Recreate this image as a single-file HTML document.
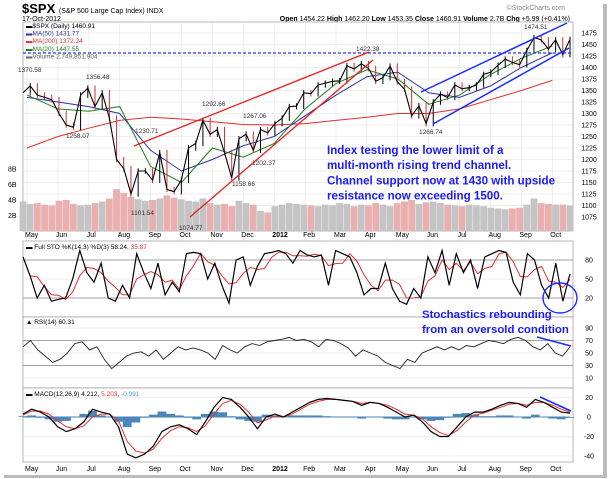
<!DOCTYPE html>
<html><head><meta charset="utf-8"><style>
body{margin:0;background:#fff;font-family:"Liberation Sans",sans-serif}
svg{display:block}
text{font-family:"Liberation Sans",sans-serif}
</style></head><body>
<svg id="c" width="609" height="479" viewBox="0 0 609 479">
<rect x="0" y="0" width="609" height="479" fill="#fff"/>
<rect x="603" y="4" width="4" height="474" fill="#bbb"/>
<rect x="4" y="475" width="603" height="3" fill="#bbb"/>
<text x="22" y="13" font-size="13" font-weight="bold">$SPX <tspan font-size="7" font-weight="normal">(S&amp;P 500 Large Cap Index) INDX</tspan></text>
<text x="22" y="21" font-size="7">17-Oct-2012</text>
<text x="565" y="10" font-size="7" fill="#888" text-anchor="end">©StockCharts.com</text>
<text x="570" y="21" font-size="7" text-anchor="end"><tspan font-weight="bold">Open</tspan> 1454.22 <tspan font-weight="bold">High</tspan> 1462.20 <tspan font-weight="bold">Low</tspan> 1453.35 <tspan font-weight="bold">Close</tspan> 1460.91 <tspan font-weight="bold">Volume</tspan> 2.7B <tspan font-weight="bold">Chg</tspan> +5.99 (+0.41%)</text>
<g id="g"></g>
</svg>
<script>
const months=["May","Jun","Jul","Aug","Sep","Oct","Nov","Dec","2012","Feb","Mar","Apr","May","Jun","Jul","Aug","Sep","Oct"];
const closes=[1345,1360,1340,1335,1330,1300,1275,1270,1340,1355,1315,1345,1290,1200,1180,1125,1175,1175,1155,1215,1135,1130,1155,1225,1235,1285,1255,1265,1215,1160,1245,1255,1220,1265,1258,1278,1290,1315,1316,1345,1343,1362,1366,1370,1371,1404,1397,1408,1398,1370,1378,1403,1369,1353,1295,1317,1278,1325,1342,1335,1362,1354,1356,1362,1385,1390,1405,1418,1411,1406,1437,1465,1460,1440,1460,1428,1461];
const volumes=[3.8,3.5,3.6,3.4,3.3,3.9,4.0,3.5,3.3,3.4,3.6,3.8,4.2,5.4,4.9,4.4,4.1,3.9,4.0,4.2,4.6,4.3,4.1,3.9,3.8,4.2,3.6,3.4,3.5,3.2,3.9,3.6,3.4,2.6,2.4,3.2,3.4,3.6,3.5,3.4,3.3,3.2,3.4,3.3,3.6,3.5,3.2,3.4,3.3,3.6,3.4,3.2,3.6,3.8,4.0,3.5,3.7,3.8,3.6,3.4,3.3,3.2,3.4,3.3,3.2,3.0,2.9,2.8,2.9,3.0,3.4,4.2,3.6,3.5,3.4,3.4,3.3];
const ma200=[1225,1250,1268,1285,1292,1288,1282,1276,1275,1278,1285,1292,1300,1300,1310,1330,1350,1372];
const ma50=[1335,1325,1315,1300,1220,1175,1200,1230,1250,1295,1340,1380,1390,1345,1335,1360,1400,1432];
const ma20=[1340,1310,1305,1315,1185,1150,1225,1205,1235,1310,1365,1395,1375,1320,1340,1385,1420,1447];
const sto=[85,55,20,40,15,18,20,50,95,60,45,75,20,15,40,20,90,60,35,75,25,45,30,90,92,90,50,75,40,12,80,85,40,70,90,92,95,90,75,95,88,85,88,40,95,90,85,60,25,35,35,75,35,15,10,35,20,85,60,95,40,90,60,80,35,85,90,95,92,45,25,90,80,40,20,75,15,58];
const rsi=[60,70,55,45,35,40,50,65,68,55,60,40,25,35,45,50,52,45,55,40,50,60,55,58,55,50,40,62,55,50,60,65,62,68,70,72,75,70,72,68,60,72,70,65,58,45,55,50,45,35,30,25,40,35,50,55,60,55,60,55,62,60,65,70,68,65,72,75,70,60,55,65,50,45,60];
const macd=[3,8,5,0,-10,-15,-12,-5,8,5,3,-10,-38,-42,-38,-30,-15,-10,-8,-12,-18,-5,10,20,18,10,0,-12,0,3,0,5,10,15,18,19,18,17,16,12,15,14,10,5,0,2,-5,-15,-20,-20,-10,0,5,5,8,12,15,14,10,18,15,10,5,4];
const signal=[2,6,6,3,-4,-10,-12,-9,0,3,3,-4,-25,-35,-37,-33,-22,-14,-10,-11,-15,-9,3,14,17,13,5,-6,-3,1,0,3,8,13,16,18,18,17,16,14,15,14,12,8,3,2,-2,-10,-16,-19,-14,-5,2,4,7,10,13,14,12,15,15,12,8,5];
const yTicksPrice=[1075,1100,1125,1150,1175,1200,1225,1250,1275,1300,1325,1350,1375,1400,1425,1450,1475];
const volTicks=[2,4,6,8];
const stoTicks=[20,50,80];
const rsiTicks=[10,30,50,70,90];
const macdTicks=[-40,-20,0,20];

const NS="http://www.w3.org/2000/svg",G=document.getElementById('g');
const X0=23,X1=570;
function mk(t,a,p){const e=document.createElementNS(NS,t);for(const k in a)e.setAttribute(k,a[k]);(p||G).appendChild(e);return e;}
function xi(i,n){return X0+i*(X1-X0)/(n-1);}
function xm(i){return 27+i*30.9;}
const py=p=>33+(1475-p)*0.46;
const vy=v=>231-v*7.75;
const sy=v=>298-(v-20)*0.633;
const ry=v=>378-(v-10)*0.625;
const my=v=>417-v*0.975;
function panel(name,t,b){
 const r=mk('rect',{x:X0,y:t,width:X1-X0+3,height:b-t,fill:'#fff',stroke:'#999','stroke-width':0.7});
 
 
}
function grid(vals,f,name){
 vals.forEach(v=>{
  const y=f(v);
  const l=mk('line',{x1:X0,x2:X1+3,y1:y,y2:y,stroke:'#ddd','stroke-width':0.6});
  
  
  const t=mk('text',{x:589,y:y+2.5,'font-size':7,'text-anchor':'middle'});t.textContent=v;
  
  
 });
}
function line(arr,fx,fy,col,w,name){
 const pts=arr.map((v,i)=>fx(i,arr.length).toFixed(1)+','+fy(v).toFixed(1)).join(' ');
 const l=mk('polyline',{points:pts,fill:'none',stroke:col,'stroke-width':w});
 
 
}
panel('price-panel',22,231);
for(let i=0;i<months.length;i++){const x=xm(i);const l=mk('line',{x1:x,x2:x,y1:22,y2:462,stroke:'#e4e4e4','stroke-width':0.6});
 
 }
grid(yTicksPrice,py,'price-axis');
volTicks.forEach(v=>{const t=mk('text',{x:8,y:vy(v)+2.5,'font-size':7});t.textContent=v+'B';
 
 });
volumes.forEach((v,i)=>{const x=xi(i,volumes.length);const up=i==0||closes[i]>=closes[i-1];
 const b=mk('rect',{x:x-3.4,y:vy(v),width:6.8,height:231-vy(v),fill:up?'#c4c4c4':'#eab0b0'});
 
 });
line(ma200,(i)=>xm(i),py,'#e03030',1,'ma200-line');
line(ma50,(i)=>xm(i),py,'#3030a0',1,'ma50-line');
line(ma20,(i)=>xm(i),py,'#208020',1,'ma20-line');
closes.forEach((v,i)=>{if(i==0)return;const x=xi(i,closes.length);const c=v>=closes[i-1]?'#000':'#d03030';
 const w=mk('line',{x1:x,x2:x,y1:py(Math.max(v,closes[i-1])+6),y2:py(Math.min(v,closes[i-1])-6),stroke:c,'stroke-width':1});
 
 });
line(closes,xi,py,'#000',1.1,'price-line');
const ann=[['M23 53 L573 53','#2030ff',1.3,'3,2','resistance-dashed-line'],['M134 146 L369 52','#e82020',1.3,'','upper-red-trendline'],['M190 217 L373 60','#e82020',1.3,'','lower-red-trendline'],['M421 92 L567 23','#1a2cff',1.5,'','upper-channel-line'],['M433 124 L569 48','#1a2cff',1.5,'','lower-channel-line']];
ann.forEach(a=>{const p=mk('path',{d:a[0],stroke:a[1],'stroke-width':a[2],fill:'none','stroke-dasharray':a[3]});
 
 });
const lbls=[[18,72,'1370.58'],[86,79,'1356.48'],[66,138,'1258.07'],[135,133,'1230.71'],[202,106,'1292.66'],[243,118,'1267.06'],[252,165,'1202.37'],[232,186,'1158.66'],[131,215,'1101.54'],[179,230,'1074.77'],[356,51,'1422.38'],[419,134,'1266.74'],[524,29,'1474.51']];
lbls.forEach(l=>{const t=mk('text',{x:l[0],y:l[1],'font-size':6.5,fill:'#333'});t.textContent=l[2];
 
 });
const leg=[['$SPX (Daily) 1460.91','#000'],['MA(50) 1431.77','#3030a0'],['MA(200) 1372.24','#e03030'],['MA(20) 1447.55','#208020'],['Volume 2,749,851,904','#666']];
leg.forEach((l,i)=>{const t=mk('text',{x:26,y:28+i*7.6,'font-size':6.5,fill:l[1]});t.textContent='▬'+l[0];
 
 });
['Index testing the lower limit of a','multi-month rising trend channel.','Channel support now at 1430 with upside','resistance now exceeding 1500.'].forEach((s,i)=>{
 const t=mk('text',{x:327,y:154+i*15.2,'font-size':11.6,'font-weight':'bold',fill:'#1a1aff'});t.textContent=s;
 
 });
[235,469].forEach((y)=>months.forEach((m,i)=>{const t=mk('text',{x:xm(i)-2,y:y+2,'font-size':7,'font-weight':m=='2012'?'bold':'normal'});t.textContent=m;
 
 }));
panel('stochastic-panel',241,317);
grid(stoTicks,sy,'stochastic-axis');
[20,80].forEach(v=>{const l=mk('line',{x1:X0,x2:X1+3,y1:sy(v),y2:sy(v),stroke:'#888','stroke-width':0.8});});
const sd=sto.map((v,i)=>i<2?v:(sto[i]+sto[i-1]+sto[i-2])/3);
line(sd,xi,sy,'#e03030',1,'stochastic-d-line');
line(sto,xi,sy,'#000',1.2,'stochastic-k-line');
{const t=mk('text',{x:26,y:249,'font-size':6.5});t.innerHTML='▬ Full STO %K(14,3) %D(3) 58.24, <tspan fill="#e03030">35.87</tspan>';}
{const e=mk('ellipse',{cx:560,cy:298,rx:17,ry:15,fill:'none',stroke:'#1a2cff','stroke-width':1.4});}
panel('rsi-panel',317,388);
grid(rsiTicks,ry,'rsi-axis');
[30,70].forEach(v=>{const l=mk('line',{x1:X0,x2:X1+3,y1:ry(v),y2:ry(v),stroke:'#888','stroke-width':0.8});});
line(rsi,xi,ry,'#222',0.9,'rsi-line');
{const t=mk('text',{x:26,y:324,'font-size':6.5});t.textContent='▲ RSI(14) 60.31';}
['Stochastics rebounding','from an oversold condition'].forEach((s,i)=>{const t=mk('text',{x:422,y:318+i*15,'font-size':11.4,'font-weight':'bold',fill:'#1a1aff'});t.textContent=s;
 
 });
{const p=mk('path',{d:'M537 337 L571 346',stroke:'#1a2cff','stroke-width':1.6});}
panel('macd-panel',388,462);
grid(macdTicks,my,'macd-axis');
macd.forEach((v,i)=>{const h=v-signal[i];const x=xi(i,macd.length);const r=mk('rect',{x:x-4.4,y:Math.min(my(h*0.8),my(0)),width:8.8,height:Math.abs(my(h*0.8)-my(0)),fill:'#4a86b8'});
 
 });
{const l=mk('line',{x1:X0,x2:X1,y1:my(0),y2:my(0),stroke:'#4a86b8','stroke-width':1});}
line(signal,xi,my,'#e03030',1,'macd-signal-line');
line(macd,xi,my,'#000',1.2,'macd-line');
{const t=mk('text',{x:26,y:396,'font-size':6.5});t.innerHTML='▬ MACD(12,26,9) 4.212, <tspan fill="#e03030">5.203</tspan>, <tspan fill="#4aa0d0">-0.991</tspan>';}
{const p=mk('path',{d:'M540 397 L571 411',stroke:'#1a2cff','stroke-width':1.6});}
</script>
</body></html>
